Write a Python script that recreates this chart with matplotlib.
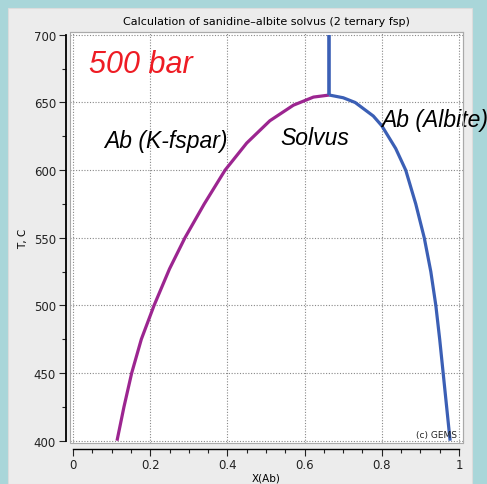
import matplotlib
matplotlib.use('Agg')
import matplotlib.pyplot as plt
from matplotlib.patches import Rectangle
from matplotlib.ticker import MultipleLocator

# Solvus branches
kfs_x = [0.114, 0.132, 0.152, 0.177, 0.210, 0.250, 0.290, 0.340, 0.394, 0.450, 0.510, 0.571, 0.623, 0.664]
kfs_T = [400, 425, 450, 475, 500, 527, 550, 575, 600, 620, 636.5, 648, 654, 655.5]

ab_x = [0.664, 0.700, 0.731, 0.778, 0.800, 0.836, 0.862, 0.888, 0.910, 0.927, 0.940, 0.950, 0.959, 0.968, 0.977]
ab_T = [655.5, 653.5, 650, 640, 632.8, 616, 600, 575, 550, 525, 500, 475, 450, 425, 400]

crest_x = [0.663, 0.663]
crest_T = [655.5, 700]

x_ticks = [0, 0.2, 0.4, 0.6, 0.8, 1]
x_labels = ['0', '0.2', '0.4', '0.6', '0.8', '1']
y_ticks = [400, 450, 500, 550, 600, 650, 700]

fig = plt.figure(figsize=(4.87, 4.85), dpi=100)
fig.patch.set_facecolor('#a9d6d9')
panel = Rectangle((8 / 487, 0), 464 / 487, 476 / 485, transform=fig.transFigure,
                  facecolor='#ececec', edgecolor='#dcdcdc', lw=0.8, zorder=-10)
fig.add_artist(panel)

ax = fig.add_axes([70 / 487, 41 / 485, 393 / 487, 411 / 485])
ax.set_facecolor('white')

ax.plot(kfs_x, kfs_T, color='#9c2590', lw=2.3, solid_capstyle='butt', solid_joinstyle='round', zorder=3)
ax.plot(ab_x, ab_T, color='#3b5fb5', lw=2.3, solid_capstyle='butt', solid_joinstyle='round', zorder=3)
ax.plot(crest_x, crest_T, color='#3b5fb5', lw=2.6, solid_capstyle='butt', zorder=4)

ax.set_xlim(-0.0078, 1.0104)
ax.set_ylim(398.3, 702.1)
ax.set_xticks(x_ticks)
ax.set_xticklabels(x_labels)
ax.set_yticks(y_ticks)
ax.xaxis.set_minor_locator(MultipleLocator(0.05))
ax.yaxis.set_minor_locator(MultipleLocator(25))
ax.grid(True, which='major', color='#888888', lw=0.8, dashes=(1, 1.5))

# frame around the white plot area, offset axis lines outside of it
for s in ['top', 'right']:
    ax.spines[s].set_color('#aaaaaa')
    ax.spines[s].set_linewidth(0.8)
ax.spines['left'].set_position(('outward', 3))
ax.spines['bottom'].set_position(('outward', 4))
ax.spines['left'].set_bounds(400, 700)
ax.spines['bottom'].set_bounds(0, 1)
ax.spines['left'].set_linewidth(1.3)
ax.spines['bottom'].set_linewidth(1.0)
ax.add_patch(Rectangle((0, 0), 1, 1, transform=ax.transAxes, fill=False,
                       edgecolor='#aaaaaa', lw=0.8, clip_on=False, zorder=5))

ax.tick_params(which='major', length=5, width=0.8, labelsize=8.5, colors='#222222', pad=2)
ax.tick_params(which='minor', length=3, width=0.8, colors='#222222')

ax.set_title('Calculation of sanidine\u2013albite solvus (2 ternary fsp)', fontsize=8, pad=6)
ax.set_xlabel('X(Ab)', fontsize=7.5, labelpad=1)
ax.set_ylabel('T, C', fontsize=7.5, labelpad=4)

ax.text(0.041, 672.5, '500 bar', color='#ee1c24', fontsize=22, style='italic', family='Liberation Sans')
ax.text(0.080, 617, 'Ab (K-fspar)', fontsize=16.5, style='italic', family='Liberation Sans')
ax.text(0.538, 619.3, 'Solvus', fontsize=16.5, style='italic', family='Liberation Sans')
ax.text(0.797, 632.6, 'Ab (Albite)', fontsize=16.5, style='italic', family='Liberation Sans', clip_on=False)
ax.text(0.995, 401, '(c) GEMS', fontsize=6.5, ha='right', va='bottom', color='#222222')

fig.savefig('out.png', dpi=100, facecolor=fig.get_facecolor())
